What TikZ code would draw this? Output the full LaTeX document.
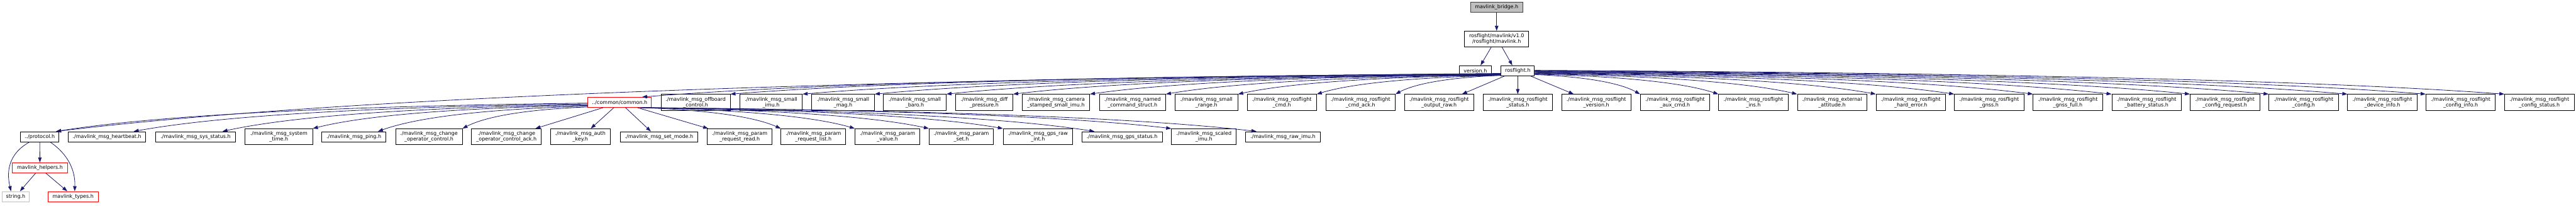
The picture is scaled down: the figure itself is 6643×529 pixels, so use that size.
\documentclass[tikz,border=0pt]{standalone}
\usepackage{fontspec}
\setmainfont{DejaVu Sans}
\usetikzlibrary{arrows.meta,calc}
\definecolor{edgeblue}{HTML}{191970}
\definecolor{rootfill}{HTML}{BFBFBF}
\definecolor{extgray}{HTML}{BFBFBF}
\definecolor{bordergray}{HTML}{404040}
\newcommand\fanedge[2]{\draw[edge] let \p1=(#1), \p2=(#2) in (\p1) .. controls ({\x1+0.45*(\x2-\x1)},{\y1+0.1*(\y2-\y1)}) and ({\x1+0.8*(\x2-\x1)},{\y1+0.4*(\y2-\y1)}) .. (\p2);}
\begin{document}
\begin{tikzpicture}[x=1pt,y=-1pt,
  box/.style={draw=black,fill=white,line width=1.3pt,inner sep=0pt,align=center,
     font=\fontsize{13}{14.7}\selectfont, minimum height=26pt},
  two/.style={minimum height=41pt},
  redbox/.style={box,draw=red},
  extbox/.style={box,draw=extgray},
  rootbox/.style={box,fill=rootfill,draw=bordergray},
  edge/.style={draw=edgeblue,line width=1.3pt,-{Triangle[length=13pt,width=9pt]}}
]
\useasboundingbox (0,0) rectangle (6643,529);
% rank 0-2
\node[rootbox,minimum width=135pt] (bridge) at (3859.5,18.5) {mavlink\_bridge.h};
\node[box,two,minimum width=165pt] (mav) at (3859.5,100.5) {rosflight/mavlink/v1.0\\/rosflight/mavlink.h};
\node[box,minimum width=83pt] (ver) at (3804.5,182) {version.h};
\node[box,minimum width=86pt] (R) at (3914,182) {rosflight.h};
% rank 3
\node[redbox,minimum width=164pt] (C) at (1598,263.5) {../common/common.h};
\node[box,two,minimum width=178pt] (offb) at (1794,263.5) {./mavlink\_msg\_offboard\\\_control.h};
\node[box,two,minimum width=161pt] (simu) at (1988.5,263.5) {./mavlink\_msg\_small\\\_imu.h};
\node[box,two,minimum width=162pt] (smag) at (2174,263.5) {./mavlink\_msg\_small\\\_mag.h};
\node[box,two,minimum width=162pt] (sbaro) at (2359,263.5) {./mavlink\_msg\_small\\\_baro.h};
\node[box,two,minimum width=148pt] (diff) at (2538,263.5) {./mavlink\_msg\_diff\\\_pressure.h};
\node[box,two,minimum width=174pt] (cam) at (2723,263.5) {./mavlink\_msg\_camera\\\_stamped\_small\_imu.h};
\node[box,two,minimum width=171pt] (named) at (2920.5,263.5) {./mavlink\_msg\_named\\\_command\_struct.h};
\node[box,two,minimum width=162pt] (srange) at (3111,263.5) {./mavlink\_msg\_small\\\_range.h};
\node[box,two,minimum width=179pt] (rcmd) at (3305.5,263.5) {./mavlink\_msg\_rosflight\\\_cmd.h};
\node[box,two,minimum width=179pt] (rcmdack) at (3508.5,263.5) {./mavlink\_msg\_rosflight\\\_cmd\_ack.h};
\node[box,two,minimum width=179pt] (outraw) at (3711,263.5) {./mavlink\_msg\_rosflight\\\_output\_raw.h};
\node[box,two,minimum width=179pt] (rstat) at (3914,263.5) {./mavlink\_msg\_rosflight\\\_status.h};
\node[box,two,minimum width=179pt] (rver) at (4116.5,263.5) {./mavlink\_msg\_rosflight\\\_version.h};
\node[box,two,minimum width=179pt] (aux) at (4319.5,263.5) {./mavlink\_msg\_rosflight\\\_aux\_cmd.h};
\node[box,two,minimum width=179pt] (ins) at (4521.5,263.5) {./mavlink\_msg\_rosflight\\\_ins.h};
\node[box,two,minimum width=179pt] (extatt) at (4724.5,263.5) {./mavlink\_msg\_external\\\_attitude.h};
\node[box,two,minimum width=179pt] (herr) at (4927.5,263.5) {./mavlink\_msg\_rosflight\\\_hard\_error.h};
\node[box,two,minimum width=179pt] (gnss) at (5129.5,263.5) {./mavlink\_msg\_rosflight\\\_gnss.h};
\node[box,two,minimum width=179pt] (gnssf) at (5332.5,263.5) {./mavlink\_msg\_rosflight\\\_gnss\_full.h};
\node[box,two,minimum width=179pt] (batt) at (5535.5,263.5) {./mavlink\_msg\_rosflight\\\_battery\_status.h};
\node[box,two,minimum width=179pt] (cfgreq) at (5737.5,263.5) {./mavlink\_msg\_rosflight\\\_config\_request.h};
\node[box,two,minimum width=179pt] (cfg) at (5940.5,263.5) {./mavlink\_msg\_rosflight\\\_config.h};
\node[box,two,minimum width=179pt] (devinfo) at (6143.5,263.5) {./mavlink\_msg\_rosflight\\\_device\_info.h};
\node[box,two,minimum width=179pt] (cfginfo) at (6345.5,263.5) {./mavlink\_msg\_rosflight\\\_config\_info.h};
\node[box,two,minimum width=179pt] (cfgstat) at (6548.5,263.5) {./mavlink\_msg\_rosflight\\\_config\_status.h};
% rank 4
\node[box,minimum width=99pt] (prot) at (102.5,352) {../protocol.h};
\node[box,minimum width=200pt] (hb) at (276,352) {./mavlink\_msg\_heartbeat.h};
\node[box,minimum width=207pt] (sysst) at (504.5,352) {./mavlink\_msg\_sys\_status.h};
\node[box,two,minimum width=174pt] (systime) at (719,352) {./mavlink\_msg\_system\\\_time.h};
\node[box,minimum width=165pt] (ping) at (912.5,352) {./mavlink\_msg\_ping.h};
\node[box,two,minimum width=172pt] (chop) at (1106,352) {./mavlink\_msg\_change\\\_operator\_control.h};
\node[box,two,minimum width=180pt] (chopack) at (1306,352) {./mavlink\_msg\_change\\\_operator\_control\_ack.h};
\node[box,two,minimum width=155pt] (auth) at (1496.5,352) {./mavlink\_msg\_auth\\\_key.h};
\node[box,minimum width=201pt] (setmode) at (1699.5,352) {./mavlink\_msg\_set\_mode.h};
\node[box,two,minimum width=167pt] (prr) at (1907.5,352) {./mavlink\_msg\_param\\\_request\_read.h};
\node[box,two,minimum width=167pt] (prl) at (2097.5,352) {./mavlink\_msg\_param\\\_request\_list.h};
\node[box,two,minimum width=167pt] (pval) at (2288.5,352) {./mavlink\_msg\_param\\\_value.h};
\node[box,two,minimum width=166pt] (pset) at (2479,352) {./mavlink\_msg\_param\\\_set.h};
\node[box,two,minimum width=179pt] (gpsraw) at (2676.5,352) {./mavlink\_msg\_gps\_raw\\\_int.h};
\node[box,minimum width=207pt] (gpsst) at (2893.5,352) {./mavlink\_msg\_gps\_status.h};
\node[box,two,minimum width=167pt] (scaled) at (3104.5,352) {./mavlink\_msg\_scaled\\\_imu.h};
\node[box,minimum width=193pt] (rawimu) at (3308.5,352) {./mavlink\_msg\_raw\_imu.h};
% rank 5-6
\node[redbox,minimum width=143pt] (helpers) at (103,432) {mavlink\_helpers.h};
\node[extbox,minimum width=69pt] (str) at (40.5,506) {string.h};
\node[redbox,minimum width=130.5pt] (types) at (188.6,506) {mavlink\_types.h};

% top edges
\draw[edge] (bridge) -- (mav);
\draw[edge] ($(mav.south)+(-14,0)$) -- ($(ver.north)+(13.5,0)$);
\draw[edge] ($(mav.south)+(14,0)$) -- ($(R.north)+(-14,0)$);

% rosflight.h -> left
\fanedge{$(R.west)+(0,7)$}{$(prot.north east)+(-8,0)$}
\fanedge{$(R.west)+(0,8)$}{$(C.north east)+(-25,0)$}
\fanedge{$(R.west)+(0,8)$}{offb.north east}
\fanedge{$(R.west)+(0,9)$}{simu.north east}
\fanedge{$(R.west)+(0,9)$}{smag.north east}
\fanedge{$(R.west)+(0,10)$}{sbaro.north east}
\fanedge{$(R.west)+(0,10)$}{diff.north east}
\fanedge{$(R.west)+(0,10)$}{cam.north east}
\fanedge{$(R.west)+(0,11)$}{named.north east}
\fanedge{$(R.west)+(0,11)$}{srange.north east}
\fanedge{$(R.west)+(0,12)$}{rcmd.north east}
\fanedge{$(R.west)+(0,12)$}{rcmdack.north east}
\draw[edge] ($(R.south west)+(10,0)$) -- ($(outraw.north east)+(-31,0)$);
\draw[edge] (R) -- (rstat);
\draw[edge] ($(R.south east)+(-11,0)$) -- ($(rver.north west)+(32,0)$);
% rosflight.h -> right
\fanedge{$(R.east)+(0,10)$}{aux.north west}
\fanedge{$(R.east)+(0,9)$}{ins.north west}
\fanedge{$(R.east)+(0,8)$}{extatt.north west}
\fanedge{$(R.east)+(0,7)$}{herr.north west}
\fanedge{$(R.east)+(0,6)$}{gnss.north west}
\fanedge{$(R.east)+(0,5)$}{gnssf.north west}
\fanedge{$(R.east)+(0,4)$}{batt.north west}
\fanedge{$(R.east)+(0,3)$}{cfgreq.north west}
\fanedge{$(R.east)+(0,2)$}{cfg.north west}
\fanedge{$(R.east)+(0,1)$}{devinfo.north west}
\fanedge{$(R.east)+(0,0)$}{cfginfo.north west}
\fanedge{$(R.east)+(0,-1)$}{cfgstat.north west}

% common.h -> left
\fanedge{$(C.west)+(0,2)$}{$(prot.north east)+(-8,0)$}
\fanedge{$(C.west)+(0,4)$}{$(hb.north east)+(-32,0)$}
\fanedge{$(C.west)+(0,6)$}{$(sysst.north east)+(-35,0)$}
\fanedge{$(C.west)+(0,8)$}{systime.north east}
\fanedge{$(C.west)+(0,10)$}{$(ping.north east)+(-21,0)$}
\fanedge{$(C.west)+(0,12)$}{chop.north east}
\draw[edge] ($(C.south west)+(40,0)$) -- ($(chopack.north east)+(-16,0)$);
\draw[edge] ($(C.south)+(-15,0)$) -- ($(auth.north)+(27,0)$);
\draw[edge] ($(C.south)+(15,0)$) -- ($(setmode.north)+(-21,0)$);
\draw[edge] ($(C.south east)+(-37,0)$) -- ($(prr.north west)+(3,0)$);
% common.h -> right
\fanedge{$(C.south east)+(-32,0)$}{prl.north west}
\fanedge{$(C.south east)+(-30,0)$}{pval.north west}
\fanedge{$(C.south east)+(-28,0)$}{pset.north west}
\fanedge{$(C.south east)+(-26,0)$}{gpsraw.north west}
\fanedge{$(C.south east)+(-24,0)$}{$(gpsst.north west)+(33,0)$}
\fanedge{$(C.south east)+(-22,0)$}{scaled.north west}
\fanedge{$(C.south east)+(-20,0)$}{$(rawimu.north west)+(29,0)$}

% protocol.h family
\draw[edge] ($(prot.south west)+(24,0)$) .. controls +(-55,30) and +(-12,-50) .. ($(str.north)+(-12,0)$);
\draw[edge] (prot) -- (helpers);
\draw[edge] ($(prot.south east)+(-23.5,0)$) .. controls +(45,30) and +(2,-55) .. ($(types.north)+(4,0)$);
\draw[edge] ($(helpers.south)+(-11,0)$) -- ($(str.north)+(11,0)$);
\draw[edge] ($(helpers.south)+(15,0)$) -- ($(types.north)+(-15,0)$);
\end{tikzpicture}
\end{document}
